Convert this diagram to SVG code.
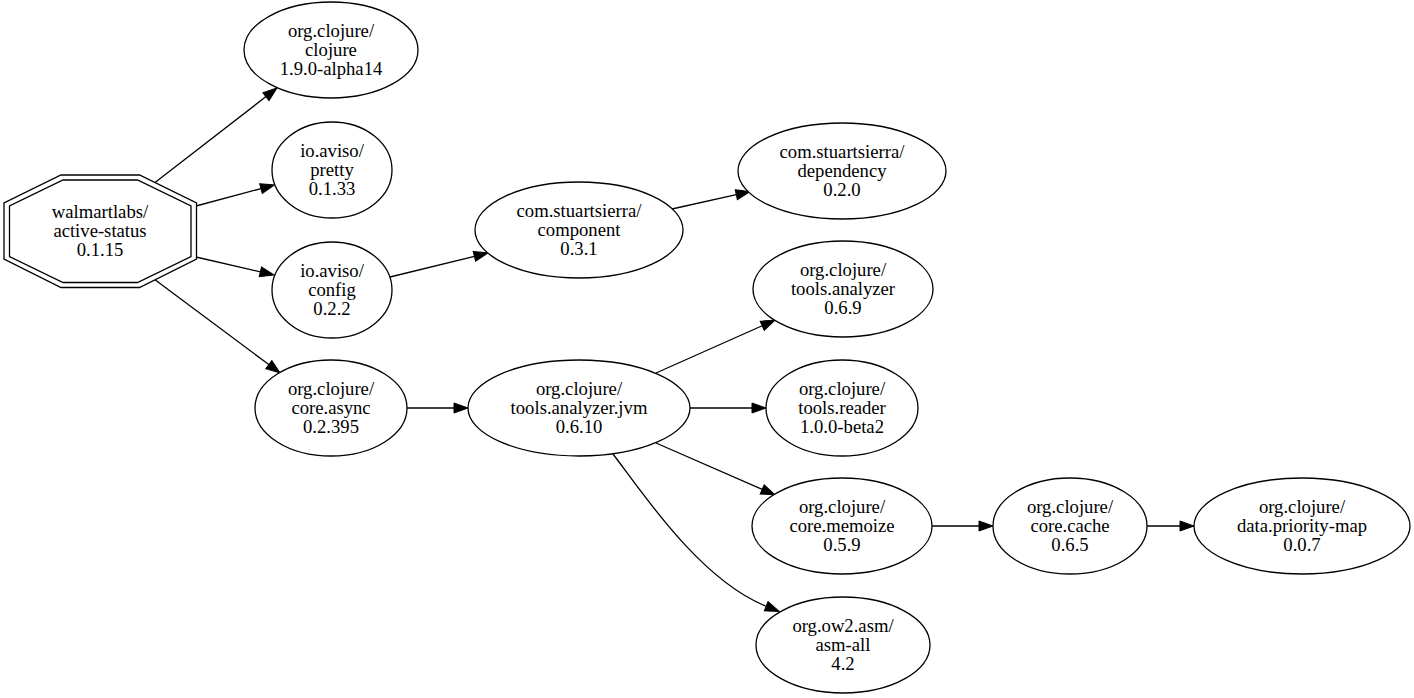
<svg xmlns="http://www.w3.org/2000/svg" width="1414" height="698" viewBox="0 0 1414 698">
<style>
.n ellipse, .n polygon { fill: #ffffff; stroke: #000000; stroke-width: 1.3; }
.n text { font-family: "Liberation Serif", "Times New Roman", serif; font-size: 18.67px; fill: #000000; text-anchor: middle; }
.e path { fill: none; stroke: #000000; stroke-width: 1.3; marker-end: url(#arr); }
</style>
<defs>
<marker id="arr" markerUnits="userSpaceOnUse" markerWidth="14" markerHeight="10" refX="0" refY="5" orient="auto" overflow="visible">
<path d="M0,0 L14,5 L0,10 z" fill="#000000" stroke="#000000" stroke-width="1"/>
</marker>
</defs>
<rect x="0" y="0" width="1414" height="698" fill="#ffffff"/>
<g id="edges" class="e">
<path d="M155,182.6 L265.95,96.6"/>
<path d="M196,206 L260.98,188.62"/>
<path d="M196,257 L260.36,271.85"/>
<path d="M155,279.75 L268.8,364.6"/>
<path d="M390,277 L474.4,256.3"/>
<path d="M672,209 L736.3,194.7"/>
<path d="M407,408 L454,408"/>
<path d="M656,373 L762.2,325.75"/>
<path d="M690,408 L752,408"/>
<path d="M656,443 L762.2,489.4"/>
<path d="M613,454 C642,492 700,580 766.2,606.25"/>
<path d="M932,526 L979,526"/>
<path d="M1147,526 L1180,526"/>
</g>
<g id="walmartlabs-active-status" class="n">
<polygon points="61,175 139.5,175 196.5,203 196.5,259 139.5,287.5 61,287.5 4,259 4,203"/>
<polygon points="63,180 137.5,180 191,206 191,256.5 137.5,282.5 63,282.5 9.5,256.5 9.5,206"/>
<text x="100" y="218">walmartlabs/</text>
<text x="100" y="237">active-status</text>
<text x="100" y="256">0.1.15</text>
</g>
<g id="org-clojure-clojure" class="n">
<ellipse cx="331" cy="50" rx="87" ry="48"/>
<text x="331" y="36.5">org.clojure/</text>
<text x="331" y="55.5">clojure</text>
<text x="331" y="74.5">1.9.0-alpha14</text>
</g>
<g id="io-aviso-pretty" class="n">
<ellipse cx="332" cy="170" rx="60" ry="48"/>
<text x="332" y="156.5">io.aviso/</text>
<text x="332" y="175.5">pretty</text>
<text x="332" y="194.5">0.1.33</text>
</g>
<g id="io-aviso-config" class="n">
<ellipse cx="332" cy="290" rx="60" ry="48"/>
<text x="332" y="276.5">io.aviso/</text>
<text x="332" y="295.5">config</text>
<text x="332" y="314.5">0.2.2</text>
</g>
<g id="org-clojure-core-async" class="n">
<ellipse cx="331" cy="408" rx="76" ry="48"/>
<text x="331" y="394.5">org.clojure/</text>
<text x="331" y="413.5">core.async</text>
<text x="331" y="432.5">0.2.395</text>
</g>
<g id="com-stuartsierra-component" class="n">
<ellipse cx="579" cy="230" rx="104" ry="48"/>
<text x="579" y="216.5">com.stuartsierra/</text>
<text x="579" y="235.5">component</text>
<text x="579" y="254.5">0.3.1</text>
</g>
<g id="com-stuartsierra-dependency" class="n">
<ellipse cx="842" cy="171" rx="104" ry="48"/>
<text x="842" y="157.5">com.stuartsierra/</text>
<text x="842" y="176.5">dependency</text>
<text x="842" y="195.5">0.2.0</text>
</g>
<g id="org-clojure-tools-analyzer-jvm" class="n">
<ellipse cx="579" cy="408" rx="111" ry="48"/>
<text x="579" y="394.5">org.clojure/</text>
<text x="579" y="413.5">tools.analyzer.jvm</text>
<text x="579" y="432.5">0.6.10</text>
</g>
<g id="org-clojure-tools-analyzer" class="n">
<ellipse cx="843" cy="289" rx="90" ry="48"/>
<text x="843" y="275.5">org.clojure/</text>
<text x="843" y="294.5">tools.analyzer</text>
<text x="843" y="313.5">0.6.9</text>
</g>
<g id="org-clojure-tools-reader" class="n">
<ellipse cx="842" cy="408" rx="76" ry="48"/>
<text x="842" y="394.5">org.clojure/</text>
<text x="842" y="413.5">tools.reader</text>
<text x="842" y="432.5">1.0.0-beta2</text>
</g>
<g id="org-clojure-core-memoize" class="n">
<ellipse cx="842" cy="526" rx="90" ry="48"/>
<text x="842" y="512.5">org.clojure/</text>
<text x="842" y="531.5">core.memoize</text>
<text x="842" y="550.5">0.5.9</text>
</g>
<g id="org-ow2-asm-asm-all" class="n">
<ellipse cx="843" cy="645" rx="87" ry="48"/>
<text x="843" y="631.5">org.ow2.asm/</text>
<text x="843" y="650.5">asm-all</text>
<text x="843" y="669.5">4.2</text>
</g>
<g id="org-clojure-core-cache" class="n">
<ellipse cx="1070" cy="526" rx="77" ry="48"/>
<text x="1070" y="512.5">org.clojure/</text>
<text x="1070" y="531.5">core.cache</text>
<text x="1070" y="550.5">0.6.5</text>
</g>
<g id="org-clojure-data-priority-map" class="n">
<ellipse cx="1302" cy="526" rx="108" ry="48"/>
<text x="1302" y="512.5">org.clojure/</text>
<text x="1302" y="531.5">data.priority-map</text>
<text x="1302" y="550.5">0.0.7</text>
</g>
</svg>
